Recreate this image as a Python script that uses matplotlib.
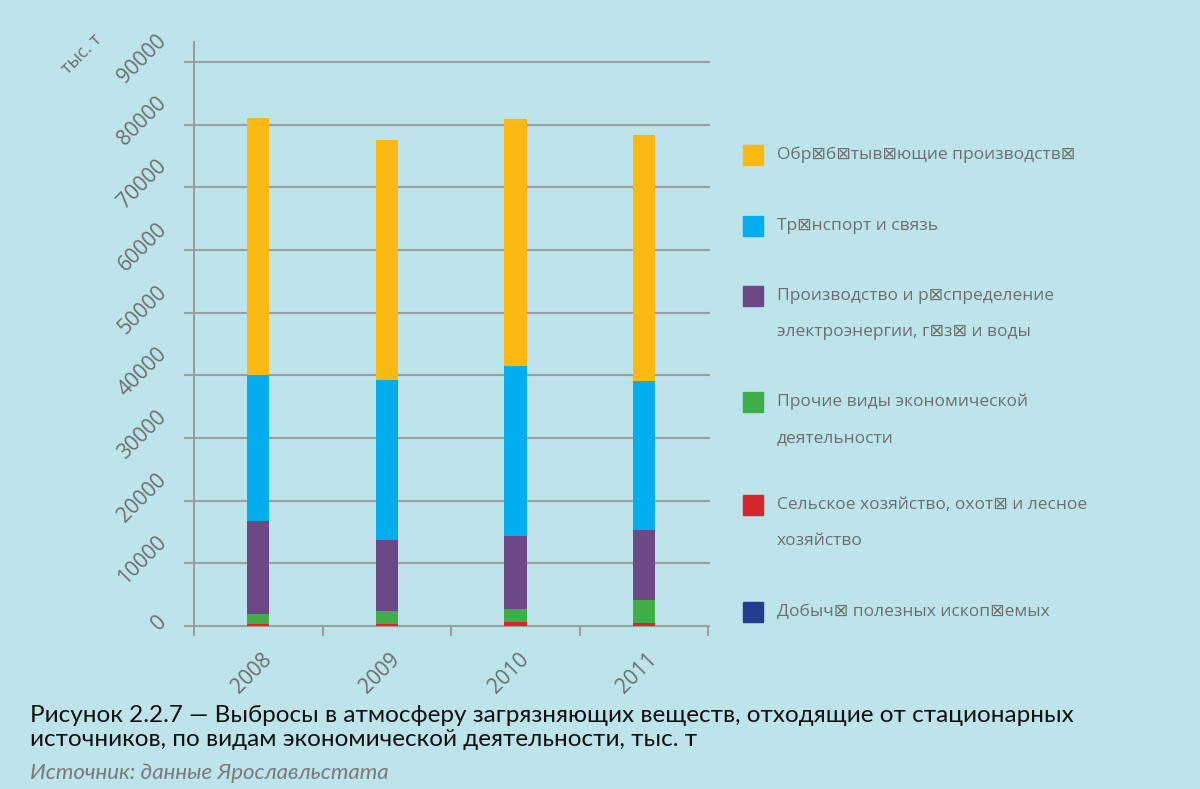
import matplotlib
matplotlib.use('Agg')
import matplotlib.pyplot as plt
from matplotlib.patches import Rectangle

# emissions by activity, thousand tonnes
years = ['2008', '2009', '2010', '2011']
mining = [40, 40, 40, 40]
agriculture = [300, 300, 600, 500]
other = [1600, 2100, 2100, 3650]
energy = [14850, 11340, 11650, 11170]
transport = [23300, 25530, 27140, 23780]
manufacturing = [41000, 38300, 39420, 39260]

series = [mining, agriculture, other, energy, transport, manufacturing]
colors = ['#233e8f', '#d7262e', '#3fae49', '#6d4886', '#00aeef', '#fdb913']
labels = [
    'Добыч\u22a0 полезных ископ\u22a0емых',
    'Сельское хозяйство, охот\u22a0 и лесное\nхозяйство',
    'Прочие виды экономической\nдеятельности',
    'Производство и р\u22a0спределение\nэлектроэнергии, г\u22a0з\u22a0 и воды',
    'Тр\u22a0нспорт и связь',
    'Обр\u22a0б\u22a0тыв\u22a0ющие производств\u22a0',
]
yticks = [0, 10000, 20000, 30000, 40000, 50000, 60000, 70000, 80000, 90000]

bg = '#bce4ea'
grid_c = '#9a9ea2'
txt_c = '#6e6e6e'
fam = ['Open Sans', 'DejaVu Sans']

fig = plt.figure(figsize=(12, 7.89), dpi=100, facecolor=bg)
ax = fig.add_axes([0.1533, 0.1939, 0.4384, 0.7538])
ax.set_facecolor(bg)
ax.set_xlim(-0.578, 3.515)
ax.set_ylim(-1600, 93300)
for s in ax.spines.values():
    s.set_visible(False)
ax.set_xticks([])
ax.set_yticks([])

ax.hlines(yticks, -0.578, 3.515, color=grid_c, lw=1.5, zorder=1)
ax.vlines(-0.5, -1600, 93300, color=grid_c, lw=1.5, zorder=1)
ax.vlines([0.5, 1.5, 2.5, 3.5], -1600, 0, color=grid_c, lw=1.5, zorder=1)

x = range(len(years))
bottom = [0] * len(years)
for vals, c in zip(series, colors):
    ax.bar(x, vals, width=0.175, bottom=bottom, color=c, zorder=2)
    bottom = [b + v for b, v in zip(bottom, vals)]

# rotated tick labels, right edge of the rotated box lined up
for v in yticks:
    ax.text(-0.679, v + 480, str(v), rotation=45, ha='right', va='center',
            fontsize=15, color=txt_c, family=fam)
ax.text(-1.37, 91200, 'тыс. т', rotation=45, ha='center', va='center',
        fontsize=13, color=txt_c, family=fam)
for i, yr in enumerate(years):
    ax.text(i - 0.05, -7500, yr, rotation=45, ha='center', va='center',
            fontsize=15, color=txt_c, family=fam)

# legend, top entry first
rows = [612, 505, 402, 296, 226, 155]
H = 789.0
for c, lab, r in zip(colors, labels, rows):
    fig.patches.append(Rectangle((743 / 1200, 1 - (r + 10) / H), 20 / 1200, 20 / H,
                                 transform=fig.transFigure, color=c))
    for k, line in enumerate(lab.split('\n')):
        fig.text(777 / 1200, 1 - (r + 36 * k) / H, line, ha='left', va='center',
                 fontsize=12.5, color=txt_c, family=fam)

fig.text(30 / 1200, 1 - 716 / H,
         'Рисунок 2.2.7 — Выбросы в атмосферу загрязняющих веществ, отходящие от стационарных',
         ha='left', va='center', fontsize=17.5, color='#111111', family='Lato')
fig.text(30 / 1200, 1 - 740 / H,
         'источников, по видам экономической деятельности, тыс. т',
         ha='left', va='center', fontsize=17.5, color='#111111', family='Lato')
fig.text(30 / 1200, 1 - 773 / H, 'Источник: данные Ярославльстата', ha='left', va='center',
         fontsize=16, color='#7a7a7a', family='Lato', style='italic')

fig.savefig('out.png', dpi=100, facecolor=bg)
